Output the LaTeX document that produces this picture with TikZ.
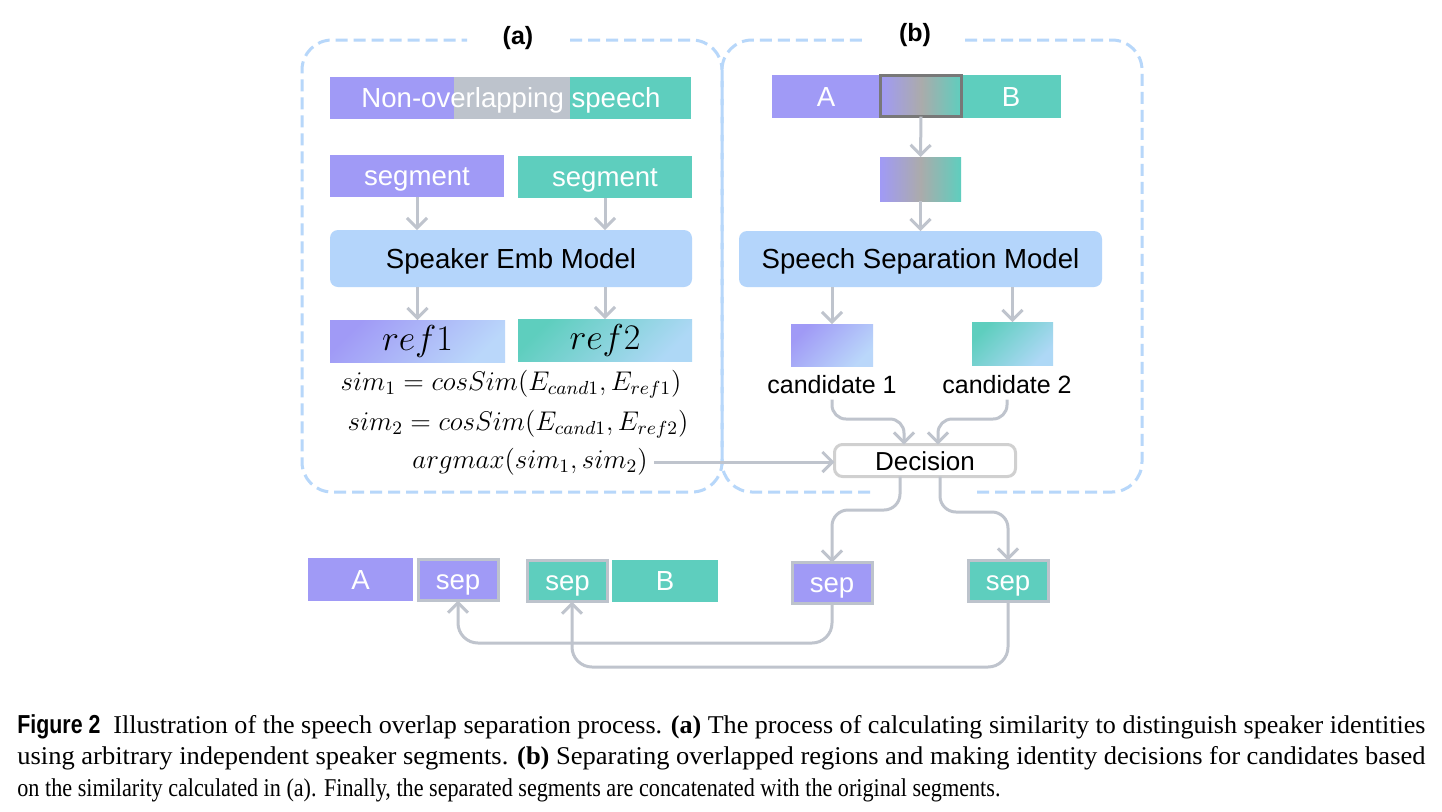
\RequirePackage{fix-cm}
\documentclass[tikz,border=0pt]{standalone}
\usepackage[no-math]{fontspec}
\setmainfont{Liberation Sans}
\newfontfamily\capfont{Liberation Serif}
\newfontfamily\figfont{Liberation Sans}
\usetikzlibrary{arrows.meta,calc}
\definecolor{pur}{HTML}{A09AF6}
\definecolor{tea}{HTML}{5ECEBE}
\definecolor{bargray}{HTML}{BDC3CC}
\definecolor{modelblue}{HTML}{B4D5FB}
\definecolor{dashblue}{HTML}{B7D7FA}
\definecolor{lineg}{HTML}{BFC4CD}
\definecolor{darkb}{HTML}{787878}
\definecolor{decb}{HTML}{D0D0D0}
\definecolor{midg}{HTML}{ABABAB}
\definecolor{lbA}{HTML}{BAD7FA}
\definecolor{lbB}{HTML}{AED8F6}
\begin{document}
\begin{tikzpicture}[x=0.5pt,y=-0.5pt,
  R/.style={rectangle, inner sep=0pt, outer sep=0pt, text=white, text height=11.5pt, text depth=2pt, font=\fontsize{13.8}{16}\selectfont},
  purbox/.style={R, fill=pur},
  teabox/.style={R, fill=tea},
  sepbox/.style={R, draw=bargray, line width=1.5pt, minimum width=40pt, minimum height=20.5pt},
  model/.style={R, fill=modelblue, rounded corners=4pt, text=black},
  gradA/.style={R, top color=pur, bottom color=lbA, shading angle=45},
  gradB/.style={R, top color=tea, bottom color=lbB, shading angle=45},
  mathtxt/.style={inner sep=0pt, font=\fontsize{13.5}{16}\selectfont},
  lbl/.style={R, text=black, font=\fontsize{12.5}{15}\selectfont},
  arr/.style={draw=lineg, line width=1.5pt, -{Straight Barb[length=5pt,width=10pt]}},
  dbox/.style={draw=dashblue, line width=1.5pt, dash pattern=on 6pt off 3pt, rounded corners=15pt},
  capline/.style={anchor=base west, inner sep=0pt}
]
\useasboundingbox (0,0) rectangle (1442,811);
\fill[white] (0,0) rectangle (1442,811);

% dashed frames
\draw[dbox] (570,40) -| (722,492) -| (302,40) -- (467,40);
\draw[dbox] (965,40) -| (1142,492) -- (975,492);
\draw[dbox] (870,492) -| (722,40) -- (865,40);
\node[font=\bfseries\fontsize{12.5}{14}\selectfont] (la) at (518,38) {(a)};
\node[font=\bfseries\fontsize{12.5}{14}\selectfont] (lb) at (915,35) {(b)};

% ---- (a)
\node[purbox, minimum width=62pt, minimum height=21pt] (nA) at (392,98) {};
\node[R, fill=bargray, minimum width=58pt, minimum height=21pt] (nG) at (512,98) {};
\node[teabox, minimum width=60.5pt, minimum height=21pt] (nT) at (630.5,98) {};
\node[R] (ntext) at (511,98) {Non-overlapping speech};

\node[purbox, minimum width=87pt, minimum height=21pt] (segA) at (417,176) {segment};
\node[teabox, minimum width=87pt, minimum height=21pt] (segB) at (605,177) {segment};
\node[model, minimum width=181pt, minimum height=28.5pt] (emb) at (511,258.5) {Speaker Emb Model};
\node[gradA, minimum width=87.5pt, minimum height=21pt, text=black] (ref1) at (417.5,341) {\fontsize{18}{20}\selectfont$ref1$};
\node[gradB, minimum width=87pt, minimum height=21pt, text=black] (ref2) at (605,340) {\fontsize{18}{20}\selectfont$ref2$};
\node[mathtxt] (sim1) at (511,384) {$sim_1 = cosSim(E_{cand1},E_{ref1})$};
\node[mathtxt] (sim2) at (518,424) {$sim_2 = cosSim(E_{cand1},E_{ref2})$};
\node[mathtxt] (amax) at (530,462) {$argmax(sim_1,sim_2)$};

\draw[arr] (segA.south) -- (segA.south |- emb.north);
\draw[arr] (segB.south) -- (segB.south |- emb.north);
\draw[arr] (ref1.north |- emb.south) -- (ref1.north);
\draw[arr] (ref2.north |- emb.south) -- (ref2.north);

% ---- (b)
\node[purbox, minimum width=54pt, minimum height=21.5pt] (bA) at (826,96.5) {A};
\node[teabox, minimum width=50pt, minimum height=21.5pt] (bB) at (1011,96.5) {B};
\node[R, left color=pur, right color=tea, middle color=midg, draw=darkb, line width=1.5pt, minimum width=40.5pt, minimum height=20.5pt] (ov) at (921,96) {};
\node[R, left color=pur, right color=tea, middle color=midg, minimum width=40.5pt, minimum height=22pt] (ov2) at (920.5,179) {};
\node[model, minimum width=181.5pt, minimum height=28pt] (sepm) at (920.5,259) {Speech Separation Model};
\node[gradA, minimum width=41pt, minimum height=21pt] (c1) at (832,345) {};
\node[gradB, minimum width=40.5pt, minimum height=21.5pt] (c2) at (1012.5,343.5) {};
\node[lbl] (c1l) at (832,384) {candidate 1};
\node[lbl] (c2l) at (1007,384) {candidate 2};
\node[R, fill=white, draw=decb, line width=1.5pt, rounded corners=4pt, minimum width=90.5pt, minimum height=16pt, text=black, font=\fontsize{13}{15}\selectfont] (dec) at (925,460.5) {Decision};

\draw[arr] (ov.south) -- (ov2.north);
\draw[arr] (ov2.south) -- (sepm.north);
\draw[arr] (c1.north |- sepm.south) -- (c1.north);
\draw[arr] (c2.north |- sepm.south) -- (c2.north);

\coordinate (k1) at (904,419);
\coordinate (k2) at (938,419);
\draw[arr, rounded corners=7pt] ([yshift=-1pt]c1l.south) |- (k1) -- (k1 |- dec.north);
\draw[arr, rounded corners=7pt] ([yshift=-1pt]c2l.south) |- (k2) -- (k2 |- dec.north);
\draw[arr, shorten <=3pt] (amax.east) -- (amax.east -| dec.west);

% ---- bottom row
\node[purbox, minimum width=52.5pt, minimum height=21.5pt] (rA) at (360.5,579.5) {A};
\node[sepbox, fill=pur] (bsepA) at (458,580) {sep};
\node[sepbox, fill=tea] (bsepB) at (567.5,581) {sep};
\node[teabox, minimum width=53pt, minimum height=21pt] (rB) at (665,581) {B};
\node[sepbox, fill=pur] (sep1) at (832,583) {sep};
\node[sepbox, fill=tea] (sep2) at (1008,581) {sep};

\coordinate (m1) at (900,510);
\coordinate (m2) at (940,512);
\draw[arr, rounded corners=8pt] (m1 |- dec.south) -- (m1) -| (sep1.north);
\draw[arr, rounded corners=8pt] (m2 |- dec.south) -- (m2) -| (sep2.north);

\coordinate (g1) at (458,643);
\coordinate (g2) at (572,667);
\draw[arr, rounded corners=10pt] (sep1.south) |- (g1) -- (bsepA.south);
\draw[arr, rounded corners=10pt] (sep2.south) |- (g2) -- (g2 |- bsepB.south);

% ---- caption
\node[capline] (figl) at (17,733) {\resizebox{41.5pt}{\height}{\figfont\bfseries\fontsize{13}{15}\selectfont Figure 2}};
\node[capline] (cap1) at (113,733) {\resizebox{656pt}{\height}{\capfont\fontsize{12.8}{15}\selectfont Illustration of the speech overlap separation process. \textbf{(a)} The process of calculating similarity to distinguish speaker identities}};
\node[capline] (cap2) at (17,764.5) {\resizebox{704pt}{\height}{\capfont\fontsize{12.8}{15}\selectfont using arbitrary independent speaker segments. \textbf{(b)} Separating overlapped regions and making identity decisions for candidates based}};
\node[capline] (cap3) at (17,796) {\resizebox{491.5pt}{\height}{\capfont\fontsize{12.8}{15}\selectfont on the similarity calculated in (a). Finally, the separated segments are concatenated with the original segments.}};
\end{tikzpicture}
\end{document}
